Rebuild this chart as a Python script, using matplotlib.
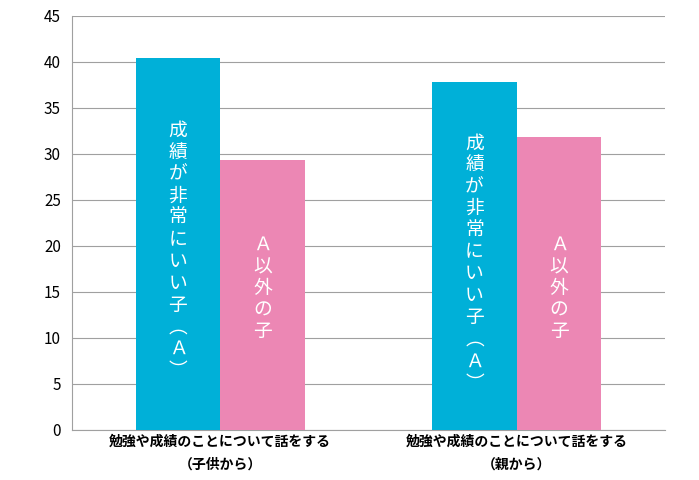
import matplotlib
matplotlib.use("Agg")
import matplotlib.pyplot as plt

plt.rcParams['font.family'] = ['Noto Sans CJK JP', 'DejaVu Sans']

categories = ["勉強や成績のことについて話をする\n（子供から）", "勉強や成績のことについて話をする\n（親から）"]
series_a = [40.4, 37.8]
series_b = [29.3, 31.8]
label_a = "成績が非常にいい子︵Ａ︶"
label_b = "Ａ以外の子"
yticks = list(range(0, 46, 5))

fig = plt.figure(figsize=(6.99, 4.80), dpi=100)
ax = fig.add_axes([72/699, 50/480, 593/699, 414/480])
w = 0.285
xs = [0.5, 1.5]
for i, x in enumerate(xs):
    ax.bar(x - w/2, series_a[i], w, color='#00b0d8', zorder=3)
    ax.bar(x + w/2, series_b[i], w, color='#ec87b4', zorder=3)
    ax.text(x - w/2, series_a[i]*0.52 - 1.5, "\n".join(label_a), color='white', fontsize=13.5,
            ha='center', va='center', linespacing=1.05, zorder=4)
    ax.text(x + w/2, 15.4, "\n".join(label_b), color='white', fontsize=13.5,
            ha='center', va='center', linespacing=1.05, zorder=4)
ax.set_xlim(0, 2)
ax.set_ylim(0, 45)
ax.set_yticks(yticks)
ax.set_xticks(xs)
ax.set_xticklabels(categories, fontsize=10, fontweight='bold', linespacing=1.8)
ax.tick_params(axis='both', length=0)
ax.tick_params(axis='y', labelsize=11, pad=8)
ax.yaxis.grid(True, color='#a0a0a0', linewidth=0.8, zorder=0)
for s in ['top', 'right']:
    ax.spines[s].set_visible(False)
ax.spines['left'].set_color('#a0a0a0')
ax.spines['bottom'].set_color('#a0a0a0')
fig.savefig('out.png', dpi=100)
